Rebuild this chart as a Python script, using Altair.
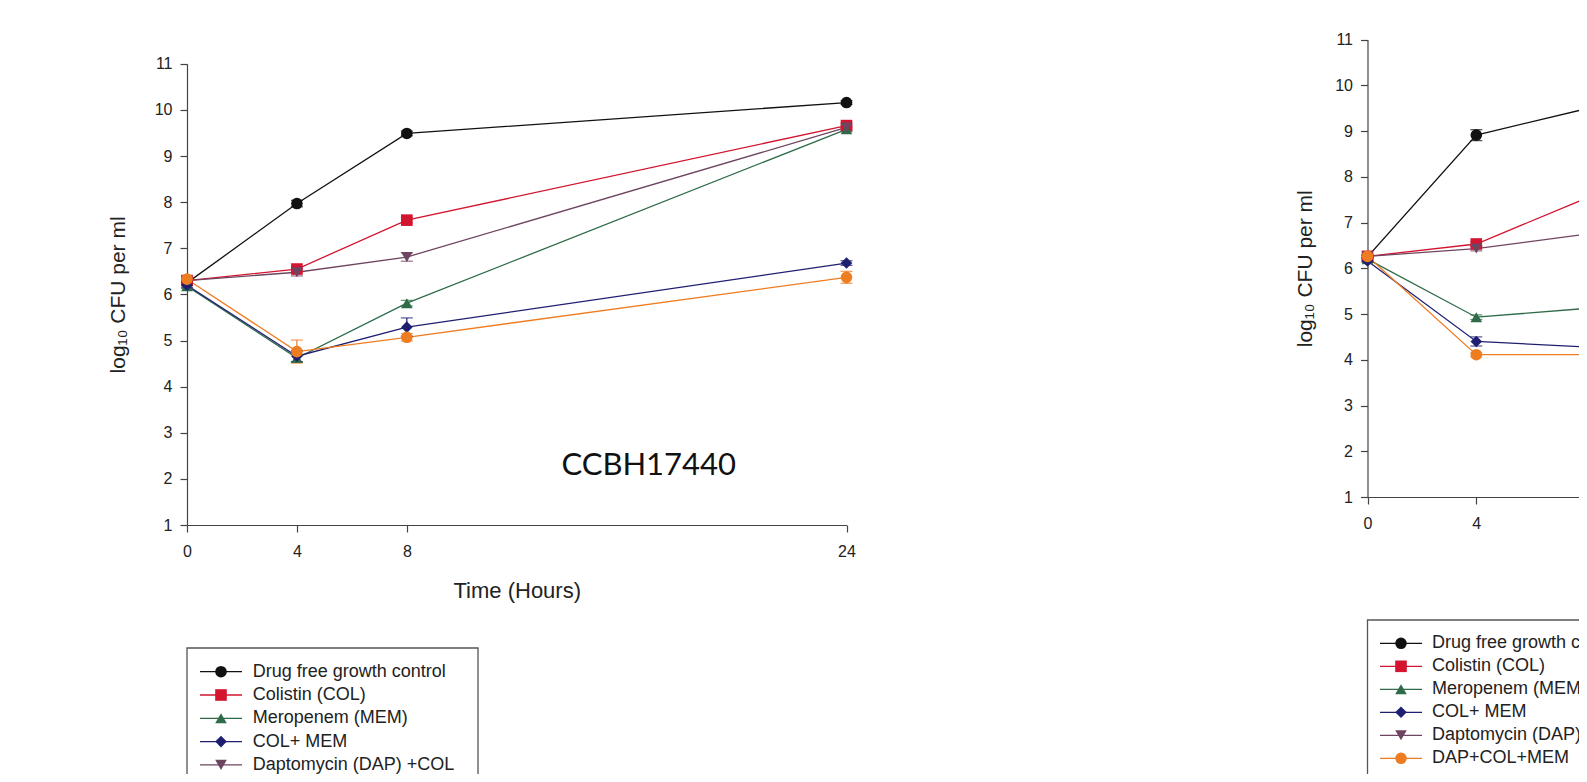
import altair as alt
import pandas as pd

# ---------------- data ----------------
SERIES = ["Drug free growth control", "Colistin (COL)", "Meropenem (MEM)",
          "COL+ MEM", "Daptomycin (DAP) +COL", "DAP+COL+MEM"]
COLORS = ["#111111", "#d3152f", "#2f6b48", "#1f1f72", "#6e4560", "#ee7d22"]
SHAPES = ["circle", "square", "triangle-up", "diamond", "triangle-down", "circle"]

X_TICKS = [0, 4, 8, 24]
Y_TICKS = list(range(1, 12))
X_TITLE = "Time (Hours)"
Y_TITLE = "log\u2081\u2080 CFU per ml"
STRAIN_A = "CCBH17440"

# left panel (CCBH17440)
TIMES_A = [0, 4, 8, 24]
A_CONTROL = [6.25, 7.97, 9.49, 10.16]
A_COL = [6.30, 6.55, 7.61, 9.66]
A_MEM = [6.18, 4.62, 5.81, 9.58]
A_COLMEM = [6.20, 4.66, 5.29, 6.68]
A_DAPCOL = [6.30, 6.48, 6.81, 9.62]
A_DAPCOLMEM = [6.33, 4.76, 5.07, 6.37]
A_ERR = [
    [0.05, 0.07, 0.05, 0.04],
    [0.04, 0.05, 0.06, 0.05],
    [0.05, 0.08, 0.06, 0.05],
    [0.05, 0.12, 0.20, 0.05],
    [0.04, 0.08, 0.09, 0.05],
    [0.05, 0.25, 0.08, 0.13],
]

# right panel (cut off at the page edge)
TIMES_B = [0, 4, 8]
B_CONTROL = [6.25, 8.91, 9.48]
B_COL = [6.26, 6.53, 7.52]
B_MEM = [6.20, 4.93, 5.12]
B_COLMEM = [6.16, 4.40, 4.28]
B_DAPCOL = [6.26, 6.43, 6.74]
B_DAPCOLMEM = [6.26, 4.11, 4.11]
B_ERR = [
    [0.03, 0.12, 0.05],
    [0.03, 0.05, 0.05],
    [0.03, 0.05, 0.05],
    [0.03, 0.10, 0.06],
    [0.03, 0.05, 0.05],
    [0.03, 0.05, 0.09],
]

FONT = "Liberation Sans"
W, H = 1571, 766
MSIZE = 135


def long_df(times, series_vals, errs):
    rows = []
    for s, vals, ee in zip(SERIES, series_vals, errs):
        for t, v, e in zip(times, vals, ee):
            rows.append({"series": s, "time": t, "value": v,
                         "lo": v - e, "hi": v + e})
    return pd.DataFrame(rows)


df_a = long_df(TIMES_A, [A_CONTROL, A_COL, A_MEM, A_COLMEM, A_DAPCOL, A_DAPCOLMEM], A_ERR)
df_b = long_df(TIMES_B, [B_CONTROL, B_COL, B_MEM, B_COLMEM, B_DAPCOL, B_DAPCOLMEM], B_ERR)

color_enc = alt.Color("series:N", scale=alt.Scale(domain=SERIES, range=COLORS), legend=None)
shape_enc = alt.Shape("series:N", scale=alt.Scale(domain=SERIES, range=SHAPES), legend=None)


def panel(df, xr, yr, ytitle_pad):
    def xs():
        return alt.Scale(domain=[0, 24], range=xr, nice=False, zero=False)

    def ys():
        return alt.Scale(domain=[1, 11], range=yr, nice=False, zero=False)

    xaxis = alt.Axis(orient="bottom", offset=yr[0] - H, values=X_TICKS, title=X_TITLE,
                     grid=False, labelFlush=False, labelFontSize=16, labelFont=FONT,
                     labelColor="#222", tickSize=7, labelPadding=11, tickColor="#444",
                     domainColor="#444", domainWidth=1.2, tickWidth=1.2,
                     titleFont=FONT, titleFontSize=22, titleFontWeight="normal",
                     titleColor="#222", titlePadding=21)
    yaxis = alt.Axis(orient="left", offset=-xr[0], values=Y_TICKS, title=Y_TITLE,
                     grid=False, labelFontSize=16, labelFont=FONT, labelColor="#222",
                     tickSize=7, labelPadding=8, tickColor="#444", domainColor="#444",
                     domainWidth=1.2, tickWidth=1.2, titleFont=FONT, titleFontSize=21,
                     titleFontWeight="normal", titleColor="#222", titlePadding=ytitle_pad)
    base = alt.Chart(df)
    lines = base.mark_line(strokeWidth=1.3).encode(
        x=alt.X("time:Q", scale=xs(), axis=xaxis),
        y=alt.Y("value:Q", scale=ys(), axis=yaxis),
        color=color_enc, detail="series:N")
    bars = base.mark_rule(strokeWidth=1.2).encode(
        x=alt.X("time:Q", scale=xs(), axis=None),
        y=alt.Y("lo:Q", scale=ys(), axis=None), y2="hi:Q", color=color_enc)
    cap_lo = base.mark_tick(orient="horizontal", size=12, thickness=1.3).encode(
        x=alt.X("time:Q", scale=xs(), axis=None),
        y=alt.Y("lo:Q", scale=ys(), axis=None), color=color_enc)
    cap_hi = base.mark_tick(orient="horizontal", size=12, thickness=1.3).encode(
        x=alt.X("time:Q", scale=xs(), axis=None),
        y=alt.Y("hi:Q", scale=ys(), axis=None), color=color_enc)
    pts = base.mark_point(filled=True, size=MSIZE, opacity=1).encode(
        x=alt.X("time:Q", scale=xs(), axis=None),
        y=alt.Y("value:Q", scale=ys(), axis=None),
        color=color_enc, shape=shape_enc)
    return [lines, bars, cap_lo, cap_hi, pts]


def legend(rows_range, line_x, marker_x, text_x, box):
    ldf = pd.DataFrame({"series": SERIES, "row": list(range(len(SERIES)))})

    def yenc():
        return alt.Y("row:Q", scale=alt.Scale(domain=[0, len(SERIES) - 1], range=rows_range,
                                              nice=False, zero=False), axis=None)
    frame = alt.Chart(pd.DataFrame({"k": [0]})).mark_rect(
        fillOpacity=0, stroke="#555", strokeWidth=1.3).encode(
        x=alt.value(box[0]), x2=alt.value(box[1]), y=alt.value(box[2]), y2=alt.value(box[3]))
    rule = alt.Chart(ldf).mark_rule(strokeWidth=1.3).encode(
        x=alt.value(line_x[0]), x2=alt.value(line_x[1]), y=yenc(), color=color_enc)
    pts = alt.Chart(ldf).mark_point(filled=True, size=MSIZE, opacity=1).encode(
        x=alt.value(marker_x), y=yenc(), color=color_enc, shape=shape_enc)
    txt = alt.Chart(ldf).mark_text(align="left", baseline="middle", fontSize=18,
                                   font=FONT, color="#222").encode(
        x=alt.value(text_x), y=yenc(), text="series:N")
    return [frame, rule, pts, txt]


left = panel(df_a, [179, 838.5], [517, 55.8], 26)
right = panel(df_b, [1359.5, 1359.5 + 24 * 27.2], [489, 31.5], 19)

leg_left = legend([663.7, 663.7 + 5 * 23.3], [192, 234], 213, 244.7, [179, 470, 640, 830])
leg_right = legend([635.3, 635.3 + 5 * 23.0], [1372, 1414], 1393, 1424, [1359.5, 1700, 612, 771])

strain = alt.Chart(pd.DataFrame({"label": [STRAIN_A]})).mark_text(
    font="Lato", fontSize=31, color="#111", align="center", baseline="middle").encode(
    x=alt.value(640.7), y=alt.value(457.6), text="label:N")

chart = alt.layer(*left, *right, *leg_left, *leg_right, strain).resolve_scale(
    x="independent", y="independent"
).properties(
    width=W, height=H, autosize=alt.AutoSizeParams(type="none"), padding=0
).configure_view(stroke=None)

chart.save("out.html", embed_options={"renderer": "svg", "actions": False})
